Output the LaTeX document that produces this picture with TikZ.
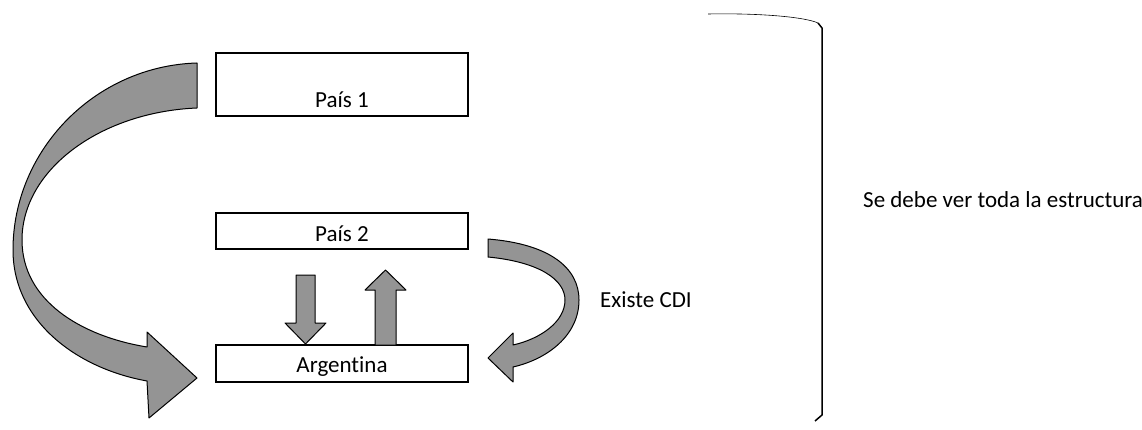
\documentclass[tikz,border=0pt]{standalone}
\usepackage{fontspec}
\setmainfont{Carlito}[Ligatures=NoCommon]
\begin{document}
\begin{tikzpicture}[x=1pt,y=-1pt,
  box/.style={draw=black,line width=1.3pt,inner sep=0pt},
  lbl/.style={anchor=base,inner sep=0pt,font=\fontsize{23}{25}\selectfont},
  blockarrow/.style={draw=black,line width=1pt,fill=black!42,line join=round}]
\useasboundingbox (0,0) rectangle (1142,430);
% boxes
\node[box,minimum width=252pt,minimum height=63pt] (p1) at (342,84.5) {};
\node[box,minimum width=252pt,minimum height=36pt] (p2) at (342,231) {};
\node[box,minimum width=252pt,minimum height=37pt] (ar) at (342,363.5) {};
\node[lbl] (p1t) at (342,108) {País 1};
\node[lbl] (p2t) at (342,241) {País 2};
\node[lbl] (art) at (342,372) {Argentina};
\node[lbl,anchor=base west] (cdi) at (600,307) {Existe CDI};
\node[lbl,anchor=base west] (se) at (863,208) {Se debe ver toda la estructura};
% big curved arrow
\draw[blockarrow] (197,63) .. controls (95,66) and (13,150) .. (13,250)
  .. controls (13,320) and (75,368) .. (147,381)
  -- (149,418) -- (197,378) -- (147,332) -- (147,347)
  .. controls (80,336) and (22,300) .. (22,240)
  .. controls (22,170) and (100,112) .. (197,108) -- cycle;
% right curved arrow
\draw[blockarrow] (488,239) .. controls (550,244) and (579,268) .. (579,300)
  .. controls (579,335) and (548,359) .. (513,367)
  -- (513,382) -- (488,358) -- (513,333) -- (513,345)
  .. controls (540,339) and (565,322) .. (565,300)
  .. controls (565,280) and (540,262) .. (488,257) -- cycle;
% straight arrows
\draw[blockarrow] (296,275) -- (315,275) -- (315,323) -- (326,323) -- (305.5,344)
  -- (285,323) -- (296,323) -- cycle;
\draw[blockarrow] (375,345) -- (375,290) -- (365,290) -- (385.5,270) -- (406,290)
  -- (396,290) -- (396,345) -- cycle;
% bracket
\draw[line width=0.6pt] (708,14) .. controls (760,13) and (805,17) .. (818,23);
\draw[line width=1.5pt,line join=round] (818,23) -- (822,28) -- (822,415) -- (815,421);
\end{tikzpicture}
\end{document}
